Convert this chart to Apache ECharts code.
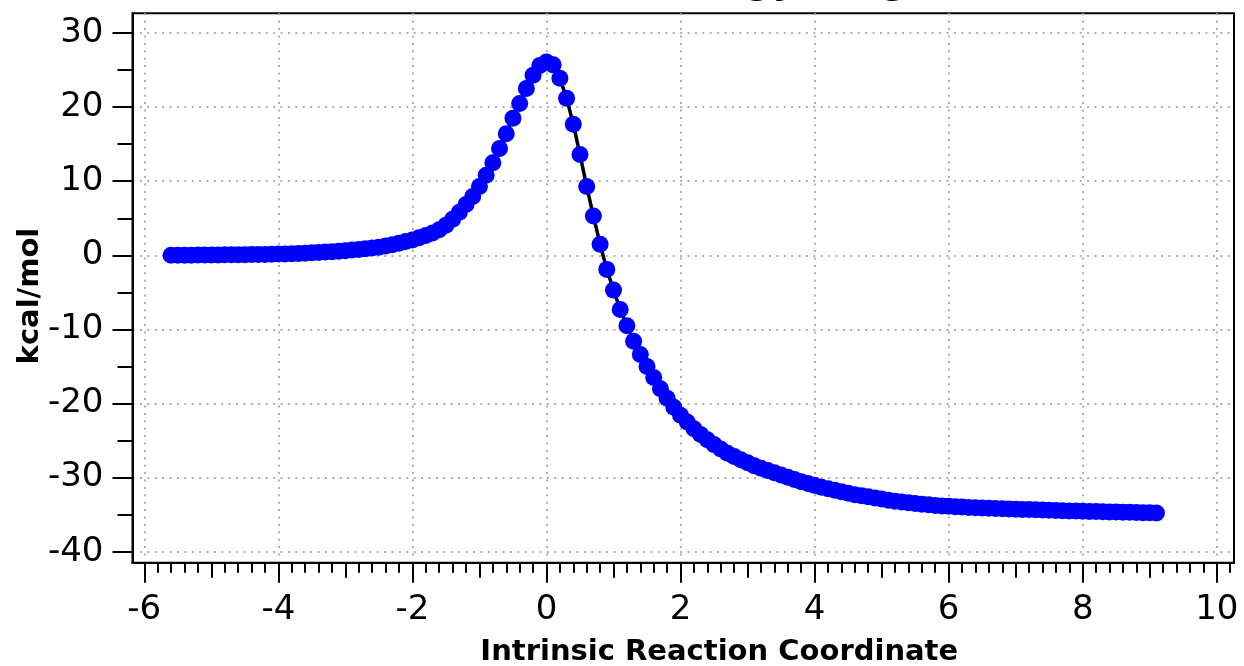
<!DOCTYPE html>
<html><head><meta charset="utf-8">
<script src="https://cdn.jsdelivr.net/npm/echarts@6/dist/echarts.min.js"></script>
<style>html,body{margin:0;padding:0;background:#fff}#c{width:1244px;height:666px}</style>
</head><body><div id="c"></div>
<script>
const chartTitle = 'Reaction Energy Diagram';
const xName = 'Intrinsic Reaction Coordinate';
const yName = 'kcal/mol';

const ircCoord = [
-5.6,-5.5,-5.4,-5.3,-5.2,-5.1,-5.0,-4.9,-4.8,-4.7,
-4.6,-4.5,-4.4,-4.3,-4.2,-4.1,-4.0,-3.9,-3.8,-3.7,
-3.6,-3.5,-3.4,-3.3,-3.2,-3.1,-3.0,-2.9,-2.8,-2.7,
-2.6,-2.5,-2.4,-2.3,-2.2,-2.1,-2.0,-1.9,-1.8,-1.7,
-1.6,-1.5,-1.4,-1.3,-1.2,-1.1,-1.0,-0.9,-0.8,-0.7,
-0.6,-0.5,-0.4,-0.3,-0.2,-0.1,0.0,
0.1,0.2,0.3,0.4,0.5,0.6,0.7,0.8,0.9,1.0,
1.1,1.2,1.3,1.4,1.5,1.6,1.7,1.8,1.9,2.0,
2.1,2.2,2.3,2.4,2.5,2.6,2.7,2.8,2.9,3.0,
3.1,3.2,3.3,3.4,3.5,3.6,3.7,3.8,3.9,4.0,
4.1,4.2,4.3,4.4,4.5,4.6,4.7,4.8,4.9,5.0,
5.1,5.2,5.3,5.4,5.5,5.6,5.7,5.8,5.9,6.0,
6.1,6.2,6.3,6.4,6.5,6.6,6.7,6.8,6.9,7.0,
7.1,7.2,7.3,7.4,7.5,7.6,7.7,7.8,7.9,8.0,
8.1,8.2,8.3,8.4,8.5,8.6,8.7,8.8,8.9,9.0,
9.1
];

const energy = [
0.00,0.01,0.02,0.02,0.03,0.04,0.05,0.05,0.06,0.07,
0.08,0.09,0.10,0.11,0.12,0.14,0.16,0.19,0.22,0.25,
0.29,0.33,0.38,0.43,0.49,0.55,0.62,0.70,0.79,0.88,
0.98,1.10,1.25,1.42,1.62,1.85,2.08,2.36,2.66,3.00,
3.45,4.05,4.85,5.80,6.85,7.95,9.30,10.8,12.5,14.4,
16.4,18.5,20.5,22.5,24.3,25.6,26.1,
25.7,23.9,21.2,17.7,13.6,9.3,5.3,1.5,-1.9,-4.7,
-7.3,-9.5,-11.6,-13.4,-15.0,-16.5,-18.0,-19.3,-20.5,-21.6,
-22.5,-23.4,-24.2,-24.9,-25.55,-26.15,-26.7,-27.15,-27.6,-28.0,
-28.4,-28.75,-29.05,-29.35,-29.65,-29.95,-30.25,-30.55,-30.8,-31.05,
-31.3,-31.5,-31.7,-31.9,-32.1,-32.3,-32.45,-32.6,-32.75,-32.9,
-33.05,-33.2,-33.3,-33.4,-33.5,-33.6,-33.68,-33.75,-33.82,-33.88,
-33.93,-33.98,-34.02,-34.06,-34.1,-34.13,-34.17,-34.2,-34.23,-34.26,
-34.29,-34.32,-34.35,-34.38,-34.41,-34.44,-34.47,-34.5,-34.52,-34.55,
-34.57,-34.59,-34.61,-34.63,-34.65,-34.67,-34.69,-34.71,-34.73,-34.75,
-34.77
];

const xMajorTicks = [-6,-4,-2,0,2,4,6,8,10];
const xMidTicks = [-5,-3,-1,1,3,5,7,9];
const xMinorTicks = [-5.8,-5.6,-5.4,-5.2,-4.8,-4.6,-4.4,-4.2,-3.8,-3.6,-3.4,-3.2,-2.8,-2.6,-2.4,-2.2,
-1.8,-1.6,-1.4,-1.2,-0.8,-0.6,-0.4,-0.2,0.2,0.4,0.6,0.8,1.2,1.4,1.6,1.8,2.2,2.4,2.6,2.8,
3.2,3.4,3.6,3.8,4.2,4.4,4.6,4.8,5.2,5.4,5.6,5.8,6.2,6.4,6.6,6.8,7.2,7.4,7.6,7.8,
8.2,8.4,8.6,8.8,9.2,9.4,9.6,9.8,10.2];
const yMajorTicks = [-40,-30,-20,-10,0,10,20,30];
const yMinorTicks = [-35,-25,-15,-5,5,15,25];

const FONT = 'DejaVu Sans';
const black = '#000';

function hiddenAxis(extra) {
  return Object.assign({
    type: 'value',
    axisLine: { show: false, onZero: false },
    axisLabel: { show: false },
    splitLine: { show: false }
  }, extra);
}

const chart = echarts.init(document.getElementById('c'), null, { renderer: 'canvas' });
chart.setOption({
  animation: false,
  backgroundColor: '#fff',
  graphic: [{
    type: 'text', x: 447, y: 2.5, z: 10, silent: true,
    style: {
      text: chartTitle, fill: black, align: 'left', verticalAlign: 'bottom',
      font: 'bold 38px "DejaVu Sans"'
    }
  }],
  grid: {
    left: 132.5, right: 10, top: 13.3, bottom: 103.2,
    outerBoundsMode: 'none', containLabel: false,
    show: true, borderColor: black, borderWidth: 2, backgroundColor: 'transparent'
  },
  xAxis: [
    {
      type: 'value', position: 'bottom', min: -6.176, max: 10.257,
      axisLine: { show: true, onZero: false, lineStyle: { color: black, width: 2 } },
      axisTick: { show: true, length: 20, customValues: xMajorTicks, lineStyle: { color: black, width: 2 } },
      axisLabel: { show: true, customValues: xMajorTicks, margin: 30, fontSize: 34, fontFamily: FONT, color: black,
                   formatter: v => String(v) },
      splitLine: { show: true, lineStyle: { color: '#b0b0b0', width: 2, type: [2, 5.4] } },
      name: xName, nameLocation: 'middle', nameGap: 75, nameMoveOverlap: false,
      nameTextStyle: { fontFamily: FONT, fontSize: 29, fontWeight: 'bold', color: black, padding: [0, 0, 0, 72] }
    },
    hiddenAxis({ position: 'bottom', min: -6.176, max: 10.257,
      axisTick: { show: true, length: 15, customValues: xMidTicks, lineStyle: { color: black, width: 2 } } }),
    hiddenAxis({ position: 'bottom', min: -6.176, max: 10.257,
      axisTick: { show: true, length: 10, customValues: xMinorTicks, lineStyle: { color: black, width: 2 } } })
  ],
  yAxis: [
    {
      type: 'value', position: 'left', min: -41.5, max: 32.66,
      axisLine: { show: true, onZero: false, lineStyle: { color: black, width: 2 } },
      axisTick: { show: true, length: 20, customValues: yMajorTicks, lineStyle: { color: black, width: 2 } },
      axisLabel: { show: true, customValues: yMajorTicks, margin: 29, fontSize: 34, fontFamily: FONT, color: black,
                   formatter: v => String(v) },
      splitLine: { show: true, lineStyle: { color: '#b0b0b0', width: 2, type: [2, 5.4] } },
      name: yName, nameLocation: 'middle', nameGap: 88, nameMoveOverlap: false,
      nameTextStyle: { fontFamily: FONT, fontSize: 29, fontWeight: 'bold', color: black, padding: [0, 16, 0, 0] }
    },
    hiddenAxis({ position: 'left', min: -41.5, max: 32.66,
      axisTick: { show: true, length: 15, customValues: yMinorTicks, lineStyle: { color: black, width: 2 } } })
  ],
  series: [{
    type: 'line',
    xAxisIndex: 0, yAxisIndex: 0,
    data: ircCoord.map((x, i) => [x, energy[i]]),
    symbol: 'circle', symbolSize: 17, showSymbol: true,
    itemStyle: { color: '#0000ff' },
    lineStyle: { color: black, width: 3.5 },
    emphasis: { disabled: true },
    z: 3
  }]
});
</script>
</body></html>
